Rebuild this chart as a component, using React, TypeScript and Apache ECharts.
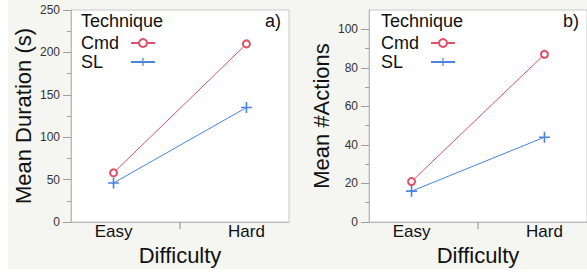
import React, { useEffect, useRef } from "react";
import * as echarts from "echarts";

const categories = ["Easy", "Hard"];
const techniques = ["Cmd", "SL"];
const durationCmd = [58, 210];
const durationSL = [46, 135];
const actionsCmd = [21, 87];
const actionsSL = [16, 44];
const actionMajorTicks = [0, 20, 40, 60, 80, 100];
const actionMinorTicks = [10, 30, 50, 70, 90];
const categoryBoundaries = [0.5];
const panelLabels = ["a)", "b)"];
const yNames = ["Mean Duration (s)", "Mean #Actions"];
const xName = "Difficulty";
const legendTitle = "Technique";

const FONT = "'Liberation Sans', Arial, Helvetica, sans-serif";
const RED = "#e05268";
const BLUE = "#4a84e0";
const PLUS = "path://M4.25,0 h1.5 v4.25 h4.25 v1.5 h-4.25 v4.25 h-1.5 v-4.25 h-4.25 v-1.5 h4.25 z";

const toPairs = (vals: number[]) => categories.map((_, i) => [i, vals[i]]);

export default function App() {
  const ref = useRef<HTMLDivElement>(null);
  useEffect(() => {
    if (!ref.current) return;
    const chart = echarts.init(ref.current, null, { renderer: "svg" });
    const grids = [
      { left: 71, top: 10, width: 218, height: 212 },
      { left: 369, top: 10, width: 219, height: 212 },
    ];
    const axisLine = { show: true, onZero: false, lineStyle: { color: "#b8b8b8", width: 1 } };
    const xAxisFor = (gi: number) => ({
      type: "value",
      gridIndex: gi,
      position: "bottom",
      min: -0.32,
      max: 1.32,
      name: xName,
      nameLocation: "middle",
      nameGap: 22,
      nameTextStyle: { fontFamily: FONT, fontSize: 22, color: "#111" },
      axisLine,
      axisTick: { show: false },
      axisLabel: {
        customValues: categories.map((_, i) => i),
        formatter: (v: number) => categories[Math.round(v)] ?? "",
        fontFamily: FONT,
        fontSize: 17,
        color: "#111",
        margin: 1,
      },
      splitLine: { show: false },
    });
    const yCommon = (gi: number, name: string) => ({
      type: "value",
      gridIndex: gi,
      position: "left",
      name,
      nameLocation: "middle",
      nameGap: 37,
      nameTextStyle: { fontFamily: FONT, fontSize: 22, color: "#111" },
      axisLine,
      axisLabel: { fontFamily: FONT, fontSize: 12, color: "#333", margin: 11 },
      splitLine: { show: false },
    });
    const legendFor = (left: number) => ({
      orient: "vertical",
      left,
      top: 34,
      padding: 0,
      itemGap: 1,
      align: "right",
      itemWidth: 24,
      itemHeight: 10,
      data: techniques,
      selectedMode: false,
      lineStyle: { width: 2 },
      formatter: (n: string) => `{t|${n}}`,
      textStyle: {
        rich: { t: { width: 45, align: "left", fontFamily: FONT, fontSize: 18, color: "#111" } },
      },
    });
    const lineSeries = [
      [durationCmd, durationSL],
      [actionsCmd, actionsSL],
    ].flatMap((pair, gi) =>
      pair.map((vals, si) => ({
        type: "line",
        name: techniques[si],
        xAxisIndex: gi,
        yAxisIndex: gi,
        data: toPairs(vals),
        symbol: si === 0 ? "emptyCircle" : PLUS,
        symbolSize: si === 0 ? 7 : 11,
        color: si === 0 ? RED : BLUE,
        lineStyle: { width: 1, color: si === 0 ? RED : BLUE },
        itemStyle: { color: si === 0 ? RED : BLUE, borderWidth: si === 0 ? 1.2 : 0 },
        z: 3,
      }))
    );
    const tickSeries = [0, 1].map((gi) => ({
      type: "custom",
      name: "boundary",
      xAxisIndex: gi,
      yAxisIndex: gi,
      clip: false,
      silent: true,
      z: 5,
      data: categoryBoundaries.map((b) => [b, 0]),
      renderItem: (_p: any, api: any) => {
        const pt = api.coord([api.value(0), api.value(1)]);
        return {
          type: "line",
          shape: { x1: pt[0], y1: pt[1], x2: pt[0], y2: pt[1] + 7 },
          style: { stroke: "#9a9a9a", lineWidth: 1.2 },
        };
      },
    }));
    const titleStyle = { fontFamily: FONT, fontSize: 18, fontWeight: "normal", color: "#111" };
    chart.setOption({
      animation: false,
      backgroundColor: "#f5f5f1",
      title: [
        { text: legendTitle, left: 81, top: 12, padding: 0, textStyle: titleStyle },
        { text: legendTitle, left: 381, top: 12, padding: 0, textStyle: titleStyle },
        { text: panelLabels[0], left: 265, top: 12, padding: 0, textStyle: titleStyle },
        { text: panelLabels[1], left: 563, top: 12, padding: 0, textStyle: titleStyle },
      ],
      legend: [legendFor(81), legendFor(381)],
      grid: grids.map((g) => ({ ...g, show: true, backgroundColor: "#fff", borderColor: "#c8c8c8", borderWidth: 1 })),
      xAxis: [xAxisFor(0), xAxisFor(1)],
      yAxis: [
        {
          ...yCommon(0, yNames[0]),
          min: 0,
          max: 250,
          interval: 50,
          axisTick: { show: true, length: 8, lineStyle: { color: "#a0a0a0" } },
          minorTick: { show: true, splitNumber: 2, length: 4, lineStyle: { color: "#a0a0a0" } },
        },
        {
          ...yCommon(1, yNames[1]),
          min: 0,
          max: 110,
          interval: 20,
          axisLabel: { ...yCommon(1, "").axisLabel, customValues: actionMajorTicks },
          axisTick: { show: true, customValues: actionMajorTicks, length: 8, lineStyle: { color: "#a0a0a0" } },
        },
        {
          type: "value",
          gridIndex: 1,
          min: 0,
          max: 110,
          position: "left",
          axisLine: { show: false, onZero: false },
          axisLabel: { show: false },
          splitLine: { show: false },
          axisTick: { show: true, customValues: actionMinorTicks, length: 4, lineStyle: { color: "#a0a0a0" } },
        },
      ],
      graphic: [
        { type: "rect", shape: { x: 0, y: 0, width: 8, height: 273 }, style: { fill: "#fff" }, silent: true },
        { type: "rect", shape: { x: 0, y: 269, width: 587, height: 4 }, style: { fill: "#fff" }, silent: true },
      ],
      series: [...lineSeries, ...tickSeries],
    });
    return () => chart.dispose();
  }, []);
  return <div ref={ref} style={{ position: "fixed", left: 0, top: 0, width: 587, height: 273 }} />;
}
